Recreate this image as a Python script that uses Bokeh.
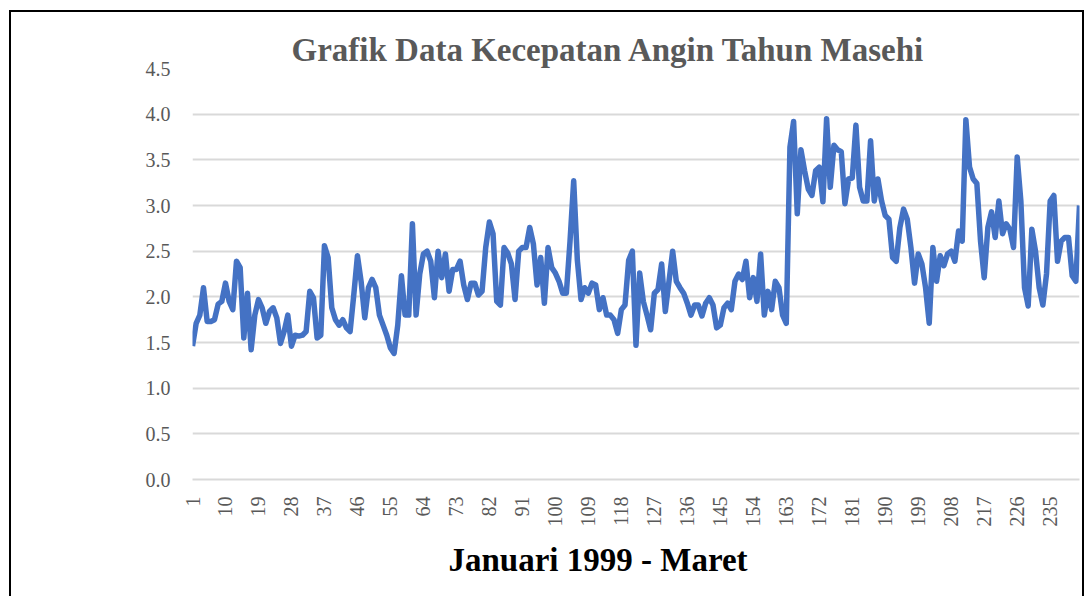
import math
from bokeh.plotting import figure
from bokeh.models import Range1d, FixedTicker, Title, NumeralTickFormatter
from bokeh.embed import file_html
from bokeh.resources import INLINE

# Wind speed values
speed = [
    1.46, 1.71, 1.80, 2.10, 1.73, 1.73, 1.75, 1.92, 1.95, 2.15,
    1.95, 1.86, 2.39, 2.32, 1.55, 2.04, 1.42, 1.80, 1.97, 1.88,
    1.71, 1.84, 1.88, 1.77, 1.49, 1.62, 1.80, 1.46, 1.58, 1.57,
    1.58, 1.62, 2.06, 1.99, 1.55, 1.58, 2.56, 2.43, 1.88, 1.75,
    1.69, 1.75, 1.66, 1.62, 2.02, 2.45, 2.17, 1.77, 2.10, 2.19,
    2.10, 1.80, 1.69, 1.58, 1.44, 1.38, 1.69, 2.23, 1.80, 1.80,
    2.80, 1.80, 2.25, 2.47, 2.50, 2.39, 1.99, 2.50, 2.21, 2.47,
    2.06, 2.30, 2.30, 2.39, 2.13, 1.97, 2.15, 2.15, 2.02, 2.06,
    2.54, 2.82, 2.69, 1.95, 1.91, 2.54, 2.48, 2.36, 1.97, 2.50,
    2.54, 2.54, 2.76, 2.58, 2.13, 2.43, 1.93, 2.54, 2.32, 2.26,
    2.17, 2.04, 2.04, 2.61, 3.27, 2.40, 1.97, 2.10, 2.04, 2.15,
    2.13, 1.86, 1.99, 1.80, 1.80, 1.75, 1.60, 1.86, 1.91, 2.40,
    2.50, 1.47, 2.26, 1.95, 1.80, 1.64, 2.04, 2.08, 2.36, 1.84,
    2.17, 2.50, 2.17, 2.10, 2.04, 1.93, 1.80, 1.91, 1.91, 1.79,
    1.93, 1.99, 1.91, 1.66, 1.69, 1.88, 1.93, 1.86, 2.17, 2.25,
    2.19, 2.39, 1.99, 2.21, 1.95, 2.47, 1.80, 2.06, 1.86, 2.17,
    2.10, 1.80, 1.71, 3.64, 3.92, 2.91, 3.61, 3.38, 3.18, 3.11,
    3.38, 3.42, 3.04, 3.95, 3.20, 3.66, 3.61, 3.59, 3.02, 3.29,
    3.30, 3.88, 3.20, 3.05, 3.05, 3.71, 3.05, 3.29, 3.05, 2.89,
    2.85, 2.43, 2.39, 2.76, 2.96, 2.85, 2.54, 2.15, 2.47, 2.36,
    2.10, 1.71, 2.54, 2.17, 2.45, 2.34, 2.47, 2.50, 2.39, 2.72,
    2.61, 3.94, 3.42, 3.29, 3.24, 2.61, 2.21, 2.76, 2.93, 2.65,
    3.05, 2.69, 2.80, 2.74, 2.54, 3.53, 3.05, 2.10, 1.90, 2.74,
    2.50, 2.10, 1.91, 2.25, 3.05, 3.11, 2.39, 2.61, 2.65, 2.65,
    2.23, 2.17, 3.00,
]
index = list(range(1, len(speed) + 1))
x_ticks = list(range(1, 236, 9))
y_ticks = [0.0, 0.5, 1.0, 1.5, 2.0, 2.5, 3.0, 3.5, 4.0, 4.5]

title_text = "Grafik Data Kecepatan Angin Tahun Masehi"
xlabel_text = "Januari 1999 - Maret"

p = figure(width=1075, height=586, output_backend="svg", toolbar_location=None,
           x_range=Range1d(1, len(speed)), y_range=Range1d(0, 4.5),
           min_border_left=181, min_border_right=7, min_border_top=56,
           min_border_bottom=119)
p.styles = {"margin-left": "9px", "margin-top": "10px",
            "border-left": "2px solid black", "border-top": "2px solid black",
            "border-right": "2px solid black"}
p.outline_line_color = None
p.background_fill_color = "white"
p.border_fill_color = "white"

p.line(index, speed, line_color="#4472C4", line_width=5.5, line_join="round")

# grid
p.xgrid.visible = False
p.ygrid.ticker = FixedTicker(ticks=y_ticks)
p.ygrid.grid_line_color = "#d9d9d9"
p.ygrid.grid_line_width = 2

# y axis
p.yaxis.ticker = FixedTicker(ticks=y_ticks)
p.yaxis.formatter = NumeralTickFormatter(format="0.0")
p.yaxis.axis_line_color = None
p.yaxis.major_tick_line_color = None
p.yaxis.minor_tick_line_color = None
p.yaxis.major_label_text_font = "Liberation Serif"
p.yaxis.major_label_text_font_size = "20px"
p.yaxis.major_label_text_color = "#595959"
p.yaxis.major_label_standoff = 16

# x axis
p.xaxis.ticker = FixedTicker(ticks=x_ticks)
p.xaxis.major_label_orientation = math.pi / 2
p.xaxis.axis_line_color = "#d9d9d9"
p.xaxis.axis_line_width = 2
p.xaxis.major_tick_line_color = None
p.xaxis.minor_tick_line_color = None
p.xaxis.major_label_text_font = "Liberation Serif"
p.xaxis.major_label_text_font_size = "20px"
p.xaxis.major_label_text_color = "#595959"
p.xaxis.major_label_standoff = 11

p.title = Title(text=title_text, align="left", offset=99,
                text_font="Liberation Serif", text_font_size="33px",
                text_font_style="bold", text_color="#595959", standoff=2)

p.add_layout(Title(text=xlabel_text, align="left", offset=256,
                   text_font="Liberation Serif", text_font_size="33px",
                   text_font_style="bold", text_color="black", standoff=20),
             "below")

open("out.html", "w").write(file_html(p, INLINE))
